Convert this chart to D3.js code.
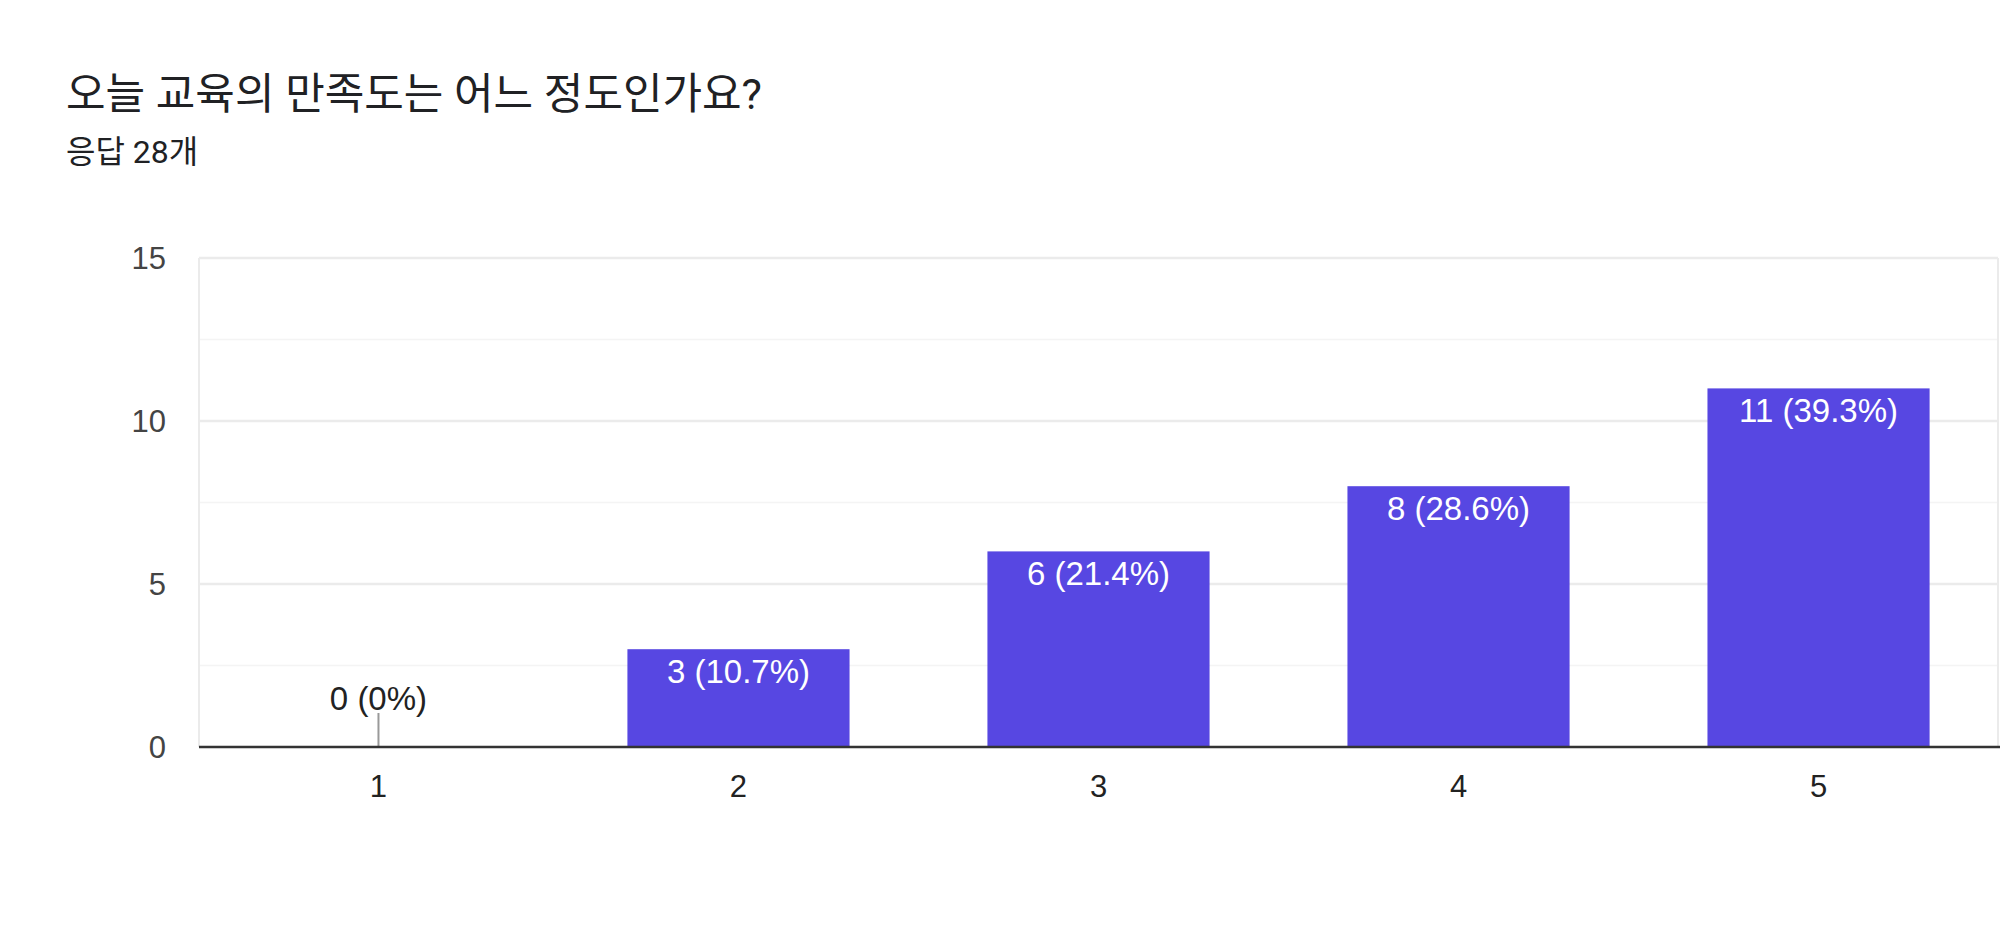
<!DOCTYPE html>
<html>
<head>
<meta charset="utf-8">
<script src="https://cdn.jsdelivr.net/npm/d3@7"></script>
<style>
  body { margin: 0; background: #fff; }
  .title { font-family: Roboto, "Noto Sans CJK KR", sans-serif; fill: #202124; }
  .num { font-family: "Liberation Sans", Arial, sans-serif; }
</style>
</head>
<body>
<div id="chart"></div>
<script>
const categories = ["1", "2", "3", "4", "5"];
const counts = [0, 3, 6, 8, 11];
const percents = ["0%", "10.7%", "21.4%", "28.6%", "39.3%"];
const yTicks = [0, 5, 10, 15];
const yMinorTicks = [2.5, 7.5, 12.5];

const width = 2000, height = 951;
const margin = { t: 258, l: 199, r: 2, b: 204 };

const svg = d3.select("#chart").append("svg")
  .attr("width", width)
  .attr("height", height);

svg.append("text").attr("class", "title")
  .attr("x", 66).attr("y", 109)
  .attr("font-size", 43)
  .text("오늘 교육의 만족도는 어느 정도인가요?");

svg.append("text").attr("class", "title")
  .attr("x", 66).attr("y", 163)
  .attr("font-size", 32)
  .text("응답 28개");

let x = d3.scaleBand()
  .domain(categories)
  .range([margin.l, width - margin.r])
  .paddingInner(0.383)
  .paddingOuter(0.19);

let y = d3.scaleLinear()
  .domain([0, 15])
  .range([height - margin.b, margin.t]);

// minor gridlines
svg.append("g").selectAll("line")
  .data(yMinorTicks).enter().append("line")
  .attr("x1", margin.l).attr("x2", width - margin.r)
  .attr("y1", d => y(d)).attr("y2", d => y(d))
  .attr("stroke", "#f4f4f4").attr("stroke-width", 1.5);

// major gridlines
svg.append("g").selectAll("line")
  .data(yTicks.filter(d => d > 0)).enter().append("line")
  .attr("x1", margin.l).attr("x2", width - margin.r)
  .attr("y1", d => y(d)).attr("y2", d => y(d))
  .attr("stroke", "#ebebeb").attr("stroke-width", 2.5);

// frame sides
svg.append("line")
  .attr("x1", margin.l).attr("x2", margin.l)
  .attr("y1", y(15)).attr("y2", y(0))
  .attr("stroke", "#ebebeb").attr("stroke-width", 2);
svg.append("line")
  .attr("x1", width - margin.r).attr("x2", width - margin.r)
  .attr("y1", y(15)).attr("y2", y(0))
  .attr("stroke", "#ebebeb").attr("stroke-width", 2);

// y axis labels
svg.append("g").selectAll("text")
  .data(yTicks).enter().append("text")
  .attr("class", "num")
  .attr("x", 166).attr("y", d => y(d))
  .attr("dy", "0.36em")
  .attr("text-anchor", "end")
  .attr("font-size", 31)
  .attr("fill", "#444")
  .text(d => d);

// bars
svg.append("g").selectAll("rect")
  .data(counts).enter().append("rect")
  .attr("x", (d, i) => x(categories[i]))
  .attr("y", d => y(d))
  .attr("width", x.bandwidth())
  .attr("height", d => y(0) - y(d))
  .attr("fill", "#5747e2");

// zero stub
counts.forEach((d, i) => {
  if (d === 0) {
    svg.append("line")
      .attr("x1", x(categories[i]) + x.bandwidth() / 2)
      .attr("x2", x(categories[i]) + x.bandwidth() / 2)
      .attr("y1", y(0) - 34).attr("y2", y(0))
      .attr("stroke", "#999").attr("stroke-width", 2);
  }
});

// value labels
svg.append("g").selectAll("text")
  .data(counts).enter().append("text")
  .attr("class", "num")
  .attr("x", (d, i) => x(categories[i]) + x.bandwidth() / 2)
  .attr("y", d => d === 0 ? y(0) - 37 : y(d) + 34)
  .attr("text-anchor", "middle")
  .attr("font-size", 33)
  .attr("fill", d => d === 0 ? "#222" : "#fff")
  .text((d, i) => d + " (" + percents[i] + ")");

// baseline
svg.append("line")
  .attr("x1", margin.l).attr("x2", width)
  .attr("y1", y(0)).attr("y2", y(0))
  .attr("stroke", "#333").attr("stroke-width", 2.5);

// x axis labels
svg.append("g").selectAll("text")
  .data(categories).enter().append("text")
  .attr("class", "num")
  .attr("x", d => x(d) + x.bandwidth() / 2)
  .attr("y", y(0) + 39)
  .attr("dy", "0.36em")
  .attr("text-anchor", "middle")
  .attr("font-size", 31)
  .attr("fill", "#222")
  .text(d => d);
</script>
</body>
</html>
